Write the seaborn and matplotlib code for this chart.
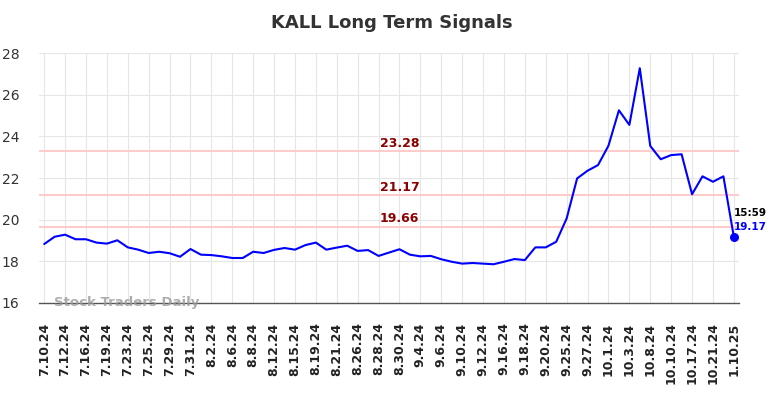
import numpy as np
import pandas as pd
import seaborn as sns
import matplotlib.pyplot as plt

# closing prices, one per trading day
prices = [18.83, 19.18, 19.28, 19.06, 19.06, 18.90, 18.85, 19.01, 18.67, 18.56,
          18.40, 18.46, 18.39, 18.22, 18.59, 18.32, 18.30, 18.24, 18.16, 18.16,
          18.46, 18.40, 18.55, 18.64, 18.56, 18.78, 18.90, 18.56, 18.66, 18.75,
          18.50, 18.54, 18.26, 18.42, 18.58, 18.32, 18.24, 18.26, 18.10, 17.98,
          17.89, 17.92, 17.89, 17.86, 17.98, 18.11, 18.06, 18.67, 18.67, 18.94,
          20.06, 21.98, 22.35, 22.62, 23.55, 25.25, 24.55, 27.27, 23.54, 22.90,
          23.10, 23.14, 21.22, 22.08, 21.82, 22.08, 19.17]

# labels shown on every second day
tick_labels = ["7.10.24", "7.12.24", "7.16.24", "7.19.24", "7.23.24", "7.25.24",
               "7.29.24", "7.31.24", "8.2.24", "8.6.24", "8.8.24", "8.12.24",
               "8.15.24", "8.19.24", "8.21.24", "8.26.24", "8.28.24", "8.30.24",
               "9.4.24", "9.6.24", "9.10.24", "9.12.24", "9.16.24", "9.18.24",
               "9.20.24", "9.25.24", "9.27.24", "10.1.24", "10.3.24", "10.8.24",
               "10.10.24", "10.17.24", "10.21.24", "1.10.25"]

# signal levels
levels = [23.28, 21.17, 19.66]

last_time = "15:59"

df = pd.DataFrame({"idx": np.arange(len(prices)), "price": prices})

sns.set_style("whitegrid", {"grid.color": "#e6e6e6"})
fig = plt.figure(figsize=(7.84, 3.98), dpi=100)
ax = fig.add_axes([0.0497, 0.2387, 0.893, 0.6281])

for lv in levels:
    ax.axhline(lv, color="#ffcccc", linewidth=1.5, zorder=1)
    ax.text(34, lv + 0.08, f"{lv:.2f}", color="#8b0000", fontsize=9,
            fontweight="bold", ha="center", va="bottom")

sns.lineplot(data=df, x="idx", y="price", color="blue", linewidth=1.5, ax=ax, zorder=3)
ax.scatter([df.idx.iloc[-1]], [df.price.iloc[-1]], color="blue", s=30, zorder=4)
ax.annotate(last_time, (df.idx.iloc[-1], df.price.iloc[-1]), xytext=(0, 17.5),
            textcoords="offset points", fontsize=7.5, fontweight="bold",
            color="black", ha="left", va="center")
ax.annotate(f"{prices[-1]:.2f}", (df.idx.iloc[-1], df.price.iloc[-1]), xytext=(0, 7),
            textcoords="offset points", fontsize=7.5, fontweight="bold",
            color="blue", ha="left", va="center")

ax.text(0.021, 0.0, "Stock Traders Daily", transform=ax.transAxes, fontsize=9.5,
        fontweight="bold", color="#999999", alpha=0.8, ha="left", va="center")

ax.set_xlim(-0.5, len(prices) - 0.5)
ax.set_ylim(16, 28)
ax.set_yticks(range(16, 29, 2))
ax.set_xticks(range(0, len(prices), 2))
ax.set_xticklabels(tick_labels, rotation=90, fontsize=9, fontweight="bold", color="#222222")
ax.tick_params(axis="y", labelsize=10, colors="#333333", length=0, pad=14)
ax.tick_params(axis="x", length=0, pad=14)
ax.set_xlabel("")
ax.set_ylabel("")

for s in ["left", "right", "top"]:
    ax.spines[s].set_visible(False)
ax.spines["bottom"].set_color("#555555")
ax.spines["bottom"].set_linewidth(1)

fig.suptitle("KALL Long Term Signals", fontsize=13, fontweight="bold", color="#333333", y=0.965)

fig.savefig("out.png", dpi=100)
